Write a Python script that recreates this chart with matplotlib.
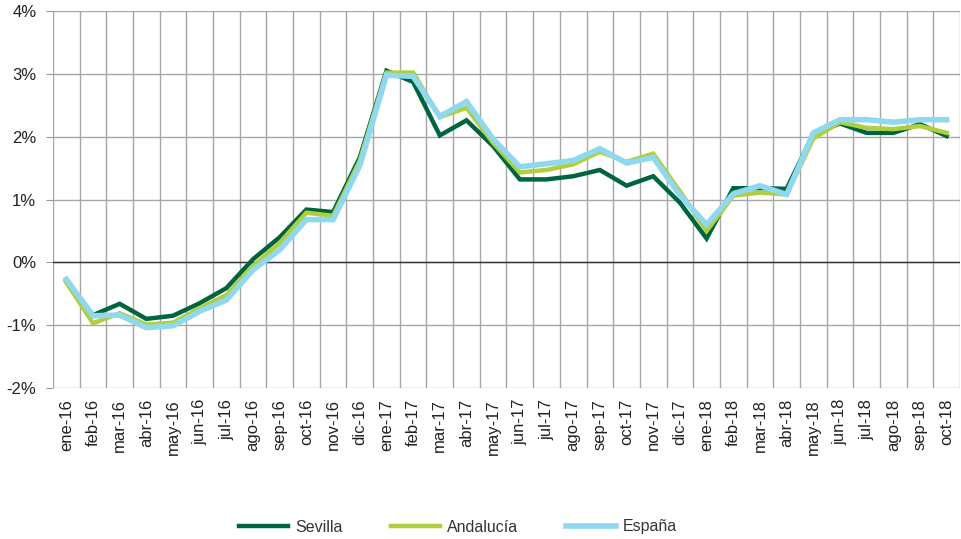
import matplotlib
matplotlib.use("Agg")
import matplotlib.pyplot as plt
from matplotlib.ticker import FuncFormatter, MultipleLocator, FixedLocator

plt.rcParams['font.family'] = ['Liberation Sans', 'DejaVu Sans']

# months ene-16 .. oct-18
meses = ['ene', 'feb', 'mar', 'abr', 'may', 'jun', 'jul', 'ago', 'sep', 'oct', 'nov', 'dic']
labels = [m + '-' + y for y in ['16', '17', '18'] for m in meses][:34]

# year-on-year variation, %
sevilla = [-0.30, -0.84, -0.66, -0.90, -0.85, -0.65, -0.41, 0.05, 0.40, 0.84, 0.80, 1.67,
           3.05, 2.87, 2.02, 2.26, 1.85, 1.32, 1.32, 1.37, 1.47, 1.22, 1.37, 0.95,
           0.38, 1.18, 1.18, 1.17, 2.04, 2.21, 2.06, 2.06, 2.20, 2.01]
andalucia = [-0.32, -0.97, -0.81, -0.99, -0.96, -0.73, -0.52, -0.06, 0.31, 0.79, 0.74, 1.62,
             3.02, 3.02, 2.31, 2.46, 1.90, 1.43, 1.47, 1.56, 1.76, 1.60, 1.73, 1.13,
             0.50, 1.06, 1.11, 1.08, 1.97, 2.23, 2.14, 2.12, 2.17, 2.06]
espana = [-0.27, -0.85, -0.84, -1.04, -1.01, -0.78, -0.60, -0.12, 0.20, 0.68, 0.68, 1.54,
          2.98, 2.96, 2.32, 2.56, 1.96, 1.52, 1.57, 1.62, 1.81, 1.58, 1.67, 1.07,
          0.60, 1.09, 1.22, 1.08, 2.06, 2.27, 2.27, 2.23, 2.27, 2.27]

x = list(range(len(labels)))

fig = plt.figure(figsize=(9.62, 5.39), dpi=100)
ax = fig.add_axes([53/962, 1 - 388/539, 907/962, 377/539])

ax.plot(x, sevilla, color='#00653f', lw=3.2, label='Sevilla', solid_joinstyle='miter', zorder=3)
ax.plot(x, andalucia, color='#afcf3c', lw=3.2, label='Andalucía', solid_joinstyle='miter', zorder=4)
ax.plot(x, espana, color='#8fd8ef', lw=4.0, label='España', solid_joinstyle='miter', zorder=5)

ax.set_xlim(-0.5, len(labels) - 0.5)
ax.set_ylim(-2, 4)
ax.yaxis.set_major_locator(MultipleLocator(1))
ax.yaxis.set_major_formatter(FuncFormatter(lambda v, p: '%d%%' % v))
ax.set_xticks(x)
ax.set_xticklabels(labels, rotation=90, fontsize=12, color='#222222')
ax.xaxis.set_minor_locator(FixedLocator([i - 0.5 for i in range(len(labels) + 1)]))
ax.tick_params(axis='x', which='major', length=0, pad=8)
ax.tick_params(axis='x', which='minor', length=0)
ax.tick_params(axis='y', length=5, color='#999999', labelsize=12, labelcolor='#222222', pad=7)

ax.grid(True, axis='y', which='major', color='#a6a6a6', lw=1)
ax.grid(True, axis='x', which='minor', color='#a6a6a6', lw=1)
ax.set_axisbelow(True)
ax.axhline(0, color='#333333', lw=1, zorder=2)
for s in ax.spines.values():
    s.set_visible(False)

fig.legend(loc='center', bbox_to_anchor=(0.476, 1 - 527/539), ncol=3, frameon=False,
           fontsize=11.5, handlelength=3.1, handletextpad=0.45, columnspacing=3.0,
           labelcolor='#333333')

fig.savefig('out.png', dpi=100)
